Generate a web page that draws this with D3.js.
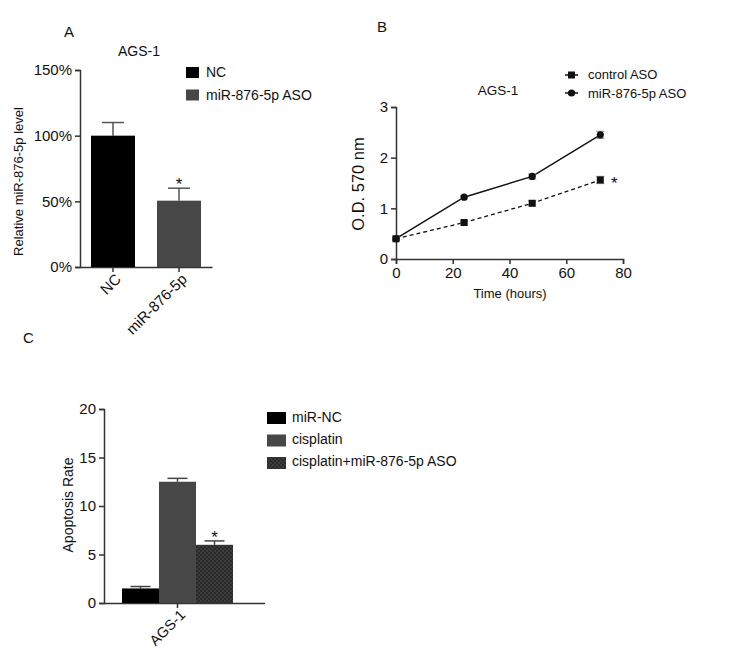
<!DOCTYPE html>
<html><head><meta charset="utf-8">
<script src="https://cdn.jsdelivr.net/npm/d3@7"></script>
<style>body{margin:0;background:#fff}svg{display:block}text{font-family:"Liberation Sans",Arial,sans-serif;fill:#111}</style>
</head><body>
<script>
// Panel A data
const aCats = ["NC", "miR-876-5p"];
const aVals = [100, 50.5];
const aErr = [10, 9.5];
const aLegend = ["NC", "miR-876-5p ASO"];
const aTicks = [0, 50, 100, 150];
// Panel B data
const bTimes = [0, 24, 48, 72];
const bControl = [0.4, 0.72, 1.1, 1.56];
const bControlErr = [0.03, 0.03, 0.05, 0.07];
const bMiR = [0.4, 1.22, 1.63, 2.45];
const bMiRErr = [0.03, 0.03, 0.05, 0.07];
const bXTicks = [0, 20, 40, 60, 80];
const bYTicks = [0, 1, 2, 3];
// Panel C data
const cSeries = ["miR-NC", "cisplatin", "cisplatin+miR-876-5p ASO"];
const cVals = [1.5, 12.5, 6.0];
const cErr = [0.2, 0.35, 0.4];
const cTicks = [0, 5, 10, 15, 20];

const svg = d3.select("body").append("svg").attr("width", 738).attr("height", 670);
const defs = svg.append("defs");
const pat = defs.append("pattern").attr("id","chk").attr("patternUnits","userSpaceOnUse").attr("width",4).attr("height",4);
pat.append("rect").attr("width",4).attr("height",4).attr("fill","#2a2a2a");
pat.append("rect").attr("width",2).attr("height",2).attr("fill","#3c3c3c");
pat.append("rect").attr("x",2).attr("y",2).attr("width",2).attr("height",2).attr("fill","#3c3c3c");

const axCol = "#333";
function styleAxis(g, fs){
  g.selectAll("path.domain").attr("stroke",axCol).attr("stroke-width",1.5);
  g.selectAll(".tick line").attr("stroke",axCol).attr("stroke-width",1.5);
  g.selectAll(".tick text").style("font-family","Liberation Sans, Arial, sans-serif").style("font-size",(fs||14)+"px").attr("fill","#111");
}

// ---------- Panel A ----------
{
  const x0 = 80, x1 = 212, yTop = 70, yBot = 267;
  const y = d3.scaleLinear().domain([0,150]).range([yBot,yTop]);
  const x = d3.scaleBand().domain(aCats).range([x0, x1]).paddingInner(1/3).paddingOuter(1/6);
  svg.append("text").attr("x",64).attr("y",37).style("font-size","15px").text("A");
  svg.append("text").attr("x",139).attr("y",56).attr("text-anchor","middle").style("font-size","14px").text("AGS-1");
  const gy = svg.append("g").attr("transform",`translate(${x0},0)`)
    .call(d3.axisLeft(y).tickValues(aTicks).tickFormat(d=>d+"%").tickSize(5).tickPadding(3));
  styleAxis(gy, 15);
  const gx = svg.append("g").attr("transform",`translate(0,${yBot})`)
    .call(d3.axisBottom(x).tickSize(5).tickSizeOuter(0));
  styleAxis(gx, 15);
  gx.selectAll(".tick text").attr("text-anchor","end").attr("transform","rotate(-45)").attr("dx","-0.2em").attr("dy","0.5em");
  const fills = ["#000","#474747"];
  aCats.forEach((c,i)=>{
    const cx = x(c)+x.bandwidth()/2;
    svg.append("line").attr("x1",cx).attr("x2",cx).attr("y1",y(aVals[i])).attr("y2",y(aVals[i]+aErr[i])).attr("stroke","#555").attr("stroke-width",1.5);
    svg.append("line").attr("x1",cx-11).attr("x2",cx+11).attr("y1",y(aVals[i]+aErr[i])).attr("y2",y(aVals[i]+aErr[i])).attr("stroke","#555").attr("stroke-width",1.5);
    svg.append("rect").attr("x",x(c)).attr("y",y(aVals[i])).attr("width",x.bandwidth()).attr("height",yBot-y(aVals[i])).attr("fill",fills[i]);
  });
  const cx2 = x(aCats[1])+x.bandwidth()/2;
  svg.append("text").attr("x",cx2).attr("y",y(aVals[1]+aErr[1])+2).attr("text-anchor","middle").style("font-size","17px").text("*");
  svg.append("text").attr("transform",`translate(23,${(yTop+yBot)/2+13}) rotate(-90)`).attr("text-anchor","middle").style("font-size","13px").text("Relative miR-876-5p level");
  aLegend.forEach((l,i)=>{
    svg.append("rect").attr("x",186).attr("y",67+i*22.5).attr("width",13).attr("height",11).attr("fill",fills[i]);
    svg.append("text").attr("x",206).attr("y",77+i*22.5).style("font-size","14px").text(l);
  });
}

// ---------- Panel B ----------
{
  const x = d3.scaleLinear().domain([0,80]).range([396,623]);
  const y = d3.scaleLinear().domain([0,3]).range([259,107]);
  svg.append("text").attr("x",377).attr("y",32).style("font-size","15px").text("B");
  svg.append("text").attr("x",498).attr("y",95).attr("text-anchor","middle").style("font-size","13.5px").text("AGS-1");
  const gy = svg.append("g").attr("transform",`translate(396,0)`)
    .call(d3.axisLeft(y).tickValues(bYTicks).tickFormat(d3.format("d")).tickSize(5).tickPadding(3));
  styleAxis(gy, 15);
  const gx = svg.append("g").attr("transform",`translate(0,259)`)
    .call(d3.axisBottom(x).tickValues(bXTicks).tickFormat(d3.format("d")).tickSize(5).tickPadding(3));
  styleAxis(gx, 15);
  svg.append("text").attr("x",510).attr("y",298).attr("text-anchor","middle").style("font-size","13px").text("Time (hours)");
  svg.append("text").attr("transform",`translate(364,184) rotate(-90)`).attr("text-anchor","middle").style("font-size","16.5px").text("O.D. 570 nm");
  const line = d3.line().x((d,i)=>x(bTimes[i])).y(d=>y(d));
  svg.append("path").datum(bControl).attr("d",line).attr("fill","none").attr("stroke","#111").attr("stroke-width",1.3).attr("stroke-dasharray","4,3");
  svg.append("path").datum(bMiR).attr("d",line).attr("fill","none").attr("stroke","#111").attr("stroke-width",1.5);
  function errs(vals, es){
    vals.forEach((v,i)=>{
      const cx = x(bTimes[i]);
      svg.append("line").attr("x1",cx).attr("x2",cx).attr("y1",y(v-es[i])).attr("y2",y(v+es[i])).attr("stroke","#999").attr("stroke-width",1.2);
      [v-es[i], v+es[i]].forEach(e=>svg.append("line").attr("x1",cx-4).attr("x2",cx+4).attr("y1",y(e)).attr("y2",y(e)).attr("stroke","#999").attr("stroke-width",1.2));
    });
  }
  errs(bControl,bControlErr); errs(bMiR,bMiRErr);
  bControl.forEach((v,i)=>svg.append("rect").attr("x",x(bTimes[i])-3.5).attr("y",y(v)-3.5).attr("width",7).attr("height",7).attr("fill","#111"));
  bMiR.forEach((v,i)=>svg.append("circle").attr("cx",x(bTimes[i])).attr("cy",y(v)).attr("r",3.6).attr("fill","#111"));
  svg.append("text").attr("x",x(72)+14).attr("y",y(bControl[3])+9).attr("text-anchor","middle").style("font-size","17px").text("*");
  // legend
  const lx = 565;
  svg.append("line").attr("x1",lx).attr("x2",lx+13).attr("y1",75).attr("y2",75).attr("stroke","#111").attr("stroke-width",1.3).attr("stroke-dasharray","3,2");
  svg.append("rect").attr("x",lx+3).attr("y",71.5).attr("width",7).attr("height",7).attr("fill","#111");
  svg.append("text").attr("x",588).attr("y",79).style("font-size","13px").text("control ASO");
  svg.append("line").attr("x1",lx).attr("x2",lx+13).attr("y1",93).attr("y2",93).attr("stroke","#111").attr("stroke-width",1.5);
  svg.append("circle").attr("cx",lx+6.5).attr("cy",93).attr("r",3.6).attr("fill","#111");
  svg.append("text").attr("x",588).attr("y",98).style("font-size","13px").text("miR-876-5p ASO");
}

// ---------- Panel C ----------
{
  const y = d3.scaleLinear().domain([0,20]).range([603,409]);
  const xs = d3.scaleBand().domain(cSeries).range([122,233]);
  svg.append("text").attr("x",23).attr("y",343).style("font-size","15px").text("C");
  const gy = svg.append("g").attr("transform",`translate(104,0)`)
    .call(d3.axisLeft(y).tickValues(cTicks).tickFormat(d3.format("d")).tickSize(5).tickPadding(3));
  styleAxis(gy, 15);
  const gx = svg.append("g").attr("transform",`translate(0,603)`)
    .call(d3.axisBottom(d3.scaleBand().domain(["AGS-1"]).range([122,233])).tickSize(5).tickSizeOuter(0));
  styleAxis(gx, 14.5);
  gx.select("path.domain").attr("d","M104,0.5H265");
  gx.selectAll(".tick text").attr("text-anchor","end").attr("transform","rotate(-45)").attr("dx","-0.2em").attr("dy","0.5em");
  const fills = ["#000","#474747","url(#chk)"];
  cSeries.forEach((s,i)=>{
    const cx = xs(s)+xs.bandwidth()/2;
    svg.append("line").attr("x1",cx).attr("x2",cx).attr("y1",y(cVals[i])).attr("y2",y(cVals[i]+cErr[i])).attr("stroke","#444").attr("stroke-width",1.5);
    svg.append("line").attr("x1",cx-10).attr("x2",cx+10).attr("y1",y(cVals[i]+cErr[i])).attr("y2",y(cVals[i]+cErr[i])).attr("stroke","#444").attr("stroke-width",1.5);
    svg.append("rect").attr("x",xs(s)).attr("y",y(cVals[i])).attr("width",xs.bandwidth()).attr("height",603-y(cVals[i])).attr("fill",fills[i]);
  });
  const s3 = cSeries[2];
  svg.append("text").attr("x",xs(s3)+xs.bandwidth()/2).attr("y",y(cVals[2]+cErr[2])+2).attr("text-anchor","middle").style("font-size","17px").text("*");
  svg.append("text").attr("transform",`translate(73,505) rotate(-90)`).attr("text-anchor","middle").style("font-size","14px").text("Apoptosis Rate");
  cSeries.forEach((s,i)=>{
    svg.append("rect").attr("x",267).attr("y",412+i*22.5).attr("width",19).attr("height",12).attr("fill",fills[i]);
    svg.append("text").attr("x",292).attr("y",422+i*22).style("font-size","14px").text(s);
  });
}
</script>
</body></html>
